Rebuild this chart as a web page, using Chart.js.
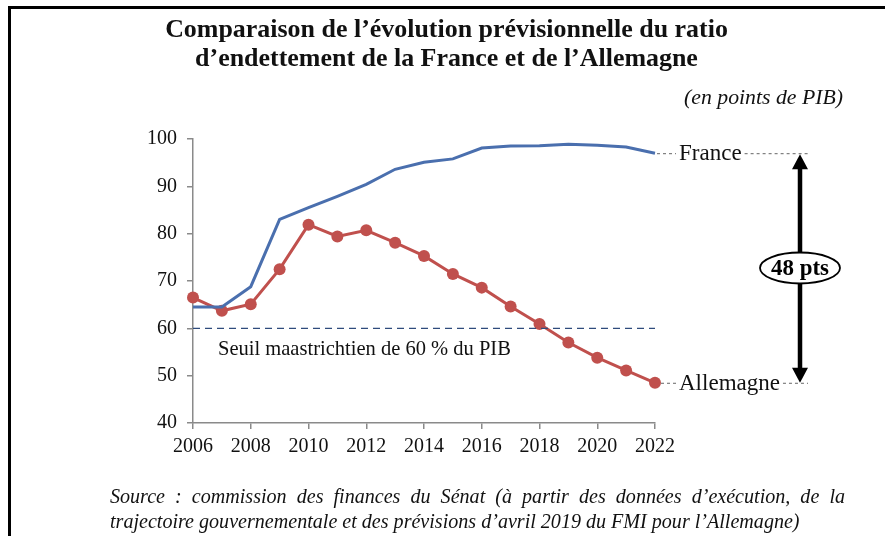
<!DOCTYPE html>
<html><head><meta charset="utf-8">
<script src="https://cdn.jsdelivr.net/npm/chart.js@4/dist/chart.umd.min.js"></script>
<style>html,body{margin:0;padding:0;background:#fff}canvas{display:block}</style>
</head><body>
<canvas id="c" width="885" height="536"></canvas>
<script>
const years = [2006,2007,2008,2009,2010,2011,2012,2013,2014,2015,2016,2017,2018,2019,2020,2021,2022];
const france = [64.5,64.5,68.8,83.0,85.5,87.9,90.4,93.6,95.1,95.8,98.1,98.5,98.6,98.9,98.7,98.3,97.0];
const allemagne = [66.5,63.7,65.1,72.5,81.9,79.4,80.7,78.1,75.3,71.5,68.6,64.6,60.9,57.0,53.8,51.1,48.5];
const seuil = 60;
const yTicks = [40,50,60,70,80,90,100];
const xTicks = [2006,2008,2010,2012,2014,2016,2018,2020,2022];
const titleLines = ["Comparaison de l’évolution prévisionnelle du ratio","d’endettement de la France et de l’Allemagne"];
const unitText = "(en points de PIB)";
const seuilText = "Seuil maastrichtien de 60 % du PIB";
const sourceLines = ["Source : commission des finances du Sénat (à partir des données d’exécution, de la","trajectoire gouvernementale et des prévisions d’avril 2019 du FMI pour l’Allemagne)"];
const ecartText = "48 pts";

const SERIF = '"Liberation Serif", "DejaVu Serif", serif';

function fitSize(ctx, text, style, target) {
  ctx.font = style + ' 20px ' + SERIF;
  const w = ctx.measureText(text).width;
  return 20 * target / w;
}

const deco = {
  id: 'deco',
  afterDraw(chart) {
    const ctx = chart.ctx;
    const xs = chart.scales.x, ys = chart.scales.y;
    ctx.save();
    // frame
    ctx.fillStyle = '#000';
    ctx.fillRect(8, 6, 877, 3);
    ctx.fillRect(8, 6, 3, 530);
    // title
    ctx.fillStyle = '#111';
    ctx.textAlign = 'center';
    ctx.textBaseline = 'alphabetic';
    let s = fitSize(ctx, titleLines[0], 'bold', 563);
    ctx.font = 'bold ' + s + 'px ' + SERIF;
    ctx.fillText(titleLines[0], 446.5, 37);
    ctx.fillText(titleLines[1], 446.5, 66);
    // unit
    ctx.textAlign = 'right';
    s = fitSize(ctx, unitText, 'italic', 159);
    ctx.font = 'italic ' + s + 'px ' + SERIF;
    ctx.fillText(unitText, 843, 104);
    // seuil text
    ctx.textAlign = 'left';
    s = fitSize(ctx, seuilText, '', 293);
    ctx.font = s + 'px ' + SERIF;
    ctx.fillStyle = '#111';
    ctx.fillText(seuilText, 218, 355);
    // end labels
    const yF = ys.getPixelForValue(france[france.length-1]);
    const yA = ys.getPixelForValue(allemagne[allemagne.length-1]);
    const xEnd = xs.getPixelForValue(years[years.length-1]);
    s = fitSize(ctx, 'Allemagne', '', 101);
    ctx.font = s + 'px ' + SERIF;
    ctx.textBaseline = 'middle';
    ctx.fillText('France', 679, yF + 1);
    ctx.fillText('Allemagne', 679, yA + 1);
    const wF = ctx.measureText('France').width;
    const wA = ctx.measureText('Allemagne').width;
    // leaders
    ctx.strokeStyle = '#666';
    ctx.lineWidth = 1;
    ctx.setLineDash([3, 3]);
    ctx.beginPath();
    ctx.moveTo(xEnd + 2, yF + 0.5); ctx.lineTo(676, yF + 0.5);
    ctx.moveTo(679 + wF + 3, yF + 0.5); ctx.lineTo(808, yF + 0.5);
    ctx.moveTo(xEnd + 6, yA + 0.5); ctx.lineTo(676, yA + 0.5);
    ctx.moveTo(679 + wA + 3, yA + 0.5); ctx.lineTo(808, yA + 0.5);
    ctx.stroke();
    ctx.setLineDash([]);
    // arrow
    const ax = 800;
    ctx.strokeStyle = '#000';
    ctx.fillStyle = '#000';
    ctx.lineWidth = 4.5;
    ctx.beginPath();
    ctx.moveTo(ax, yF + 12); ctx.lineTo(ax, yA - 12);
    ctx.stroke();
    ctx.beginPath();
    ctx.moveTo(ax, yF + 1); ctx.lineTo(ax - 8, yF + 16); ctx.lineTo(ax + 8, yF + 16); ctx.closePath();
    ctx.fill();
    ctx.beginPath();
    ctx.moveTo(ax, yA); ctx.lineTo(ax - 8, yA - 15); ctx.lineTo(ax + 8, yA - 15); ctx.closePath();
    ctx.fill();
    // ellipse
    const ey = 268;
    ctx.beginPath();
    ctx.ellipse(ax, ey, 40, 15.5, 0, 0, Math.PI * 2);
    ctx.fillStyle = '#fff';
    ctx.fill();
    ctx.lineWidth = 1.8;
    ctx.stroke();
    ctx.fillStyle = '#000';
    ctx.textAlign = 'center';
    s = fitSize(ctx, ecartText, 'bold', 58);
    ctx.font = 'bold ' + s + 'px ' + SERIF;
    ctx.fillText(ecartText, ax, ey + 1);
    // source
    ctx.textBaseline = 'alphabetic';
    ctx.textAlign = 'left';
    ctx.fillStyle = '#111';
    s = fitSize(ctx, sourceLines[1], 'italic', 690);
    ctx.font = 'italic ' + s + 'px ' + SERIF;
    ctx.fillText(sourceLines[1], 110, 528);
    // justified line 1
    const words = sourceLines[0].split(' ');
    let total = 0;
    words.forEach(w => total += ctx.measureText(w).width);
    const gap = (845 - 110 - total) / (words.length - 1);
    let x = 110;
    words.forEach(w => { ctx.fillText(w, x, 503); x += ctx.measureText(w).width + gap; });
    ctx.restore();
  }
};

const pts = arr => years.map((y, i) => ({x: y, y: arr[i]}));

new Chart(document.getElementById('c'), {
  type: 'line',
  data: {
    datasets: [
      {
        label: 'Seuil',
        data: [{x: years[0], y: seuil}, {x: years[years.length-1], y: seuil}],
        borderColor: '#2F4B7C',
        borderWidth: 1.2,
        borderDash: [7, 5],
        pointRadius: 0,
        clip: false
      },
      {
        label: 'France',
        data: pts(france),
        borderColor: '#4A6FAE',
        borderWidth: 3,
        pointRadius: 0,
        tension: 0,
        clip: false
      },
      {
        label: 'Allemagne',
        data: pts(allemagne),
        borderColor: '#C0504D',
        backgroundColor: '#C0504D',
        borderWidth: 3,
        pointRadius: 6,
        pointBorderWidth: 0,
        pointHoverRadius: 6,
        clip: false
      }
    ]
  },
  options: {
    responsive: false,
    animation: false,
    events: [],
    layout: {padding: {left: 133, right: 230, top: 139, bottom: 73}},
    plugins: {legend: {display: false}, tooltip: {enabled: false}, title: {display: false}},
    scales: {
      x: {
        type: 'linear',
        min: 2006, max: 2022,
        afterFit(s) { s.height = 40; },
        afterBuildTicks(s) { s.ticks = xTicks.map(v => ({value: v})); },
        border: {color: '#8a8a8a', width: 1.5},
        grid: {drawOnChartArea: false, drawTicks: true, tickLength: 6, color: '#8a8a8a', lineWidth: 1.5},
        ticks: {color: '#111', padding: 6, font: {family: SERIF, size: 20}, maxRotation: 0, autoSkip: false,
                callback: v => String(v)}
      },
      y: {
        min: 40, max: 100,
        afterFit(s) { s.width = 60; },
        afterBuildTicks(s) { s.ticks = yTicks.map(v => ({value: v})); },
        border: {color: '#8a8a8a', width: 1.5},
        grid: {drawOnChartArea: false, drawTicks: true, tickLength: 6, color: '#8a8a8a', lineWidth: 1.5},
        ticks: {color: '#111', padding: 10, font: {family: SERIF, size: 20}}
      }
    }
  },
  plugins: [deco]
});
</script>
</body></html>
